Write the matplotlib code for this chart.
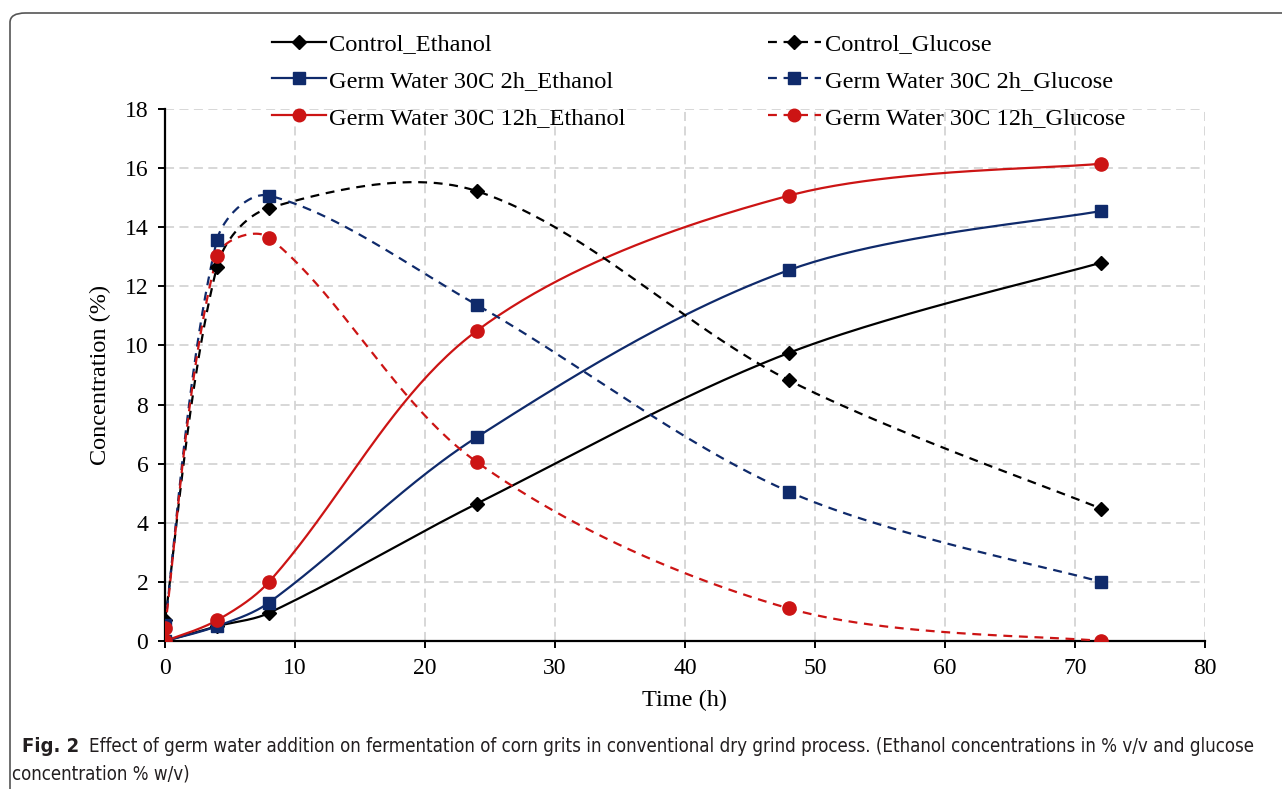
import numpy as np
import matplotlib.pyplot as plt
from matplotlib.patches import FancyBboxPatch

# data
tiempo = [0, 4, 8, 24, 48, 72]
control_etanol = [0.0, 0.5, 0.95, 4.65, 9.75, 12.8]
germ2h_etanol = [0.0, 0.5, 1.3, 6.9, 12.55, 14.55]
germ12h_etanol = [0.0, 0.7, 2.0, 10.5, 15.07, 16.15]
control_glucosa = [0.7, 12.67, 14.65, 15.22, 8.82, 4.48]
germ2h_glucosa = [0.55, 13.57, 15.07, 11.37, 5.05, 2.0]
germ12h_glucosa = [0.45, 13.02, 13.65, 6.05, 1.1, 0.0]

nombres = ["Control_Ethanol", "Germ Water 30C 2h_Ethanol", "Germ Water 30C 12h_Ethanol",
           "Control_Glucose", "Germ Water 30C 2h_Glucose", "Germ Water 30C 12h_Glucose"]

negro = "#000000"
azul = "#0f2a6b"
rojo = "#cc1414"

xmax, ymax = 80, 18
ancho_px, alto_px = 1040, 532


def suavizar(x, y, n=50):
    # curva suave tipo Excel, en espacio de pantalla; tangentes ponderadas por longitud de tramo
    px = np.array(x, float) * ancho_px / xmax
    py = np.array(y, float) * alto_px / ymax
    P = np.column_stack([px, py])
    P = np.vstack([P[0], P, P[-1]])
    out = []
    for i in range(1, len(P) - 2):
        p0, p1, p2, p3 = P[i - 1], P[i], P[i + 1], P[i + 2]
        d01 = np.hypot(*(p1 - p0))
        d12 = np.hypot(*(p2 - p1))
        d23 = np.hypot(*(p3 - p2))
        f1 = d12 / (d01 + d12) if d01 > 0 else 0.5
        f2 = d12 / (d12 + d23) if d23 > 0 else 0.5
        c1 = p1 + (p2 - p0) * f1 / 3
        c2 = p2 - (p3 - p1) * f2 / 3
        t = np.linspace(0, 1, n)[:, None]
        seg = (1 - t) ** 3 * p1 + 3 * (1 - t) ** 2 * t * c1 + 3 * (1 - t) * t ** 2 * c2 + t ** 3 * p2
        out.append(seg)
    out = np.vstack(out)
    return out[:, 0] * xmax / ancho_px, out[:, 1] * ymax / alto_px


fig = plt.figure(figsize=(12.82, 7.89), dpi=100)
ax = fig.add_axes([165 / 1282, 1 - 641 / 789, 1040 / 1282, 532 / 789])

series = [
    (control_etanol, negro, "D", 7, "-"),
    (germ2h_etanol, azul, "s", 8.5, "-"),
    (germ12h_etanol, rojo, "o", 9.5, "-"),
    (control_glucosa, negro, "D", 7, (0, (4, 3))),
    (germ2h_glucosa, azul, "s", 8.5, (0, (4, 3))),
    (germ12h_glucosa, rojo, "o", 9.5, (0, (4, 3))),
]

for (vals, color, marca, tam, estilo), nombre in zip(series, nombres):
    xs, ys = suavizar(tiempo, vals)
    ax.plot(xs, ys, color=color, lw=1.6, linestyle=estilo, zorder=3)
    ax.plot(tiempo, vals, color=color, marker=marca, markersize=tam, linestyle="none", zorder=4)
    ax.plot([], [], color=color, lw=1.6, linestyle=estilo, marker=marca, markersize=tam * 0.95, label=nombre)

ax.set_xlim(0, xmax)
ax.set_ylim(0, ymax)
ax.set_xticks(range(0, 81, 10))
ax.set_yticks(range(0, 19, 2))
ax.grid(True, color="#d4d4d4", linestyle=(0, (5, 3)), lw=1.3, zorder=0)
ax.spines["top"].set_visible(False)
ax.spines["right"].set_visible(False)
ax.spines["left"].set_linewidth(1.6)
ax.spines["bottom"].set_linewidth(1.6)
ax.tick_params(direction="out", length=5, width=1.4, labelsize=17, pad=7)
for lab in ax.get_xticklabels() + ax.get_yticklabels():
    lab.set_fontfamily("Liberation Serif")
ax.set_xlabel("Time (h)", fontsize=17.5, fontfamily="Liberation Serif", labelpad=8)
ax.set_ylabel("Concentration (%)", fontsize=17.5, fontfamily="Liberation Serif", labelpad=10)

leg = ax.legend(ncol=2, loc="upper left", bbox_to_anchor=(272 / 1282, 1 - 33 / 789),
                bbox_transform=fig.transFigure, frameon=False, borderpad=0, borderaxespad=0,
                prop={"family": "Liberation Serif", "size": 17.6}, handlelength=2.2,
                handletextpad=0.15, columnspacing=5.8, labelspacing=0.6)

# borde redondeado de la figura
borde = FancyBboxPatch((10 / 1282, -0.05), 1.1, 1 - 13 / 789 + 0.05,
                       boxstyle="round,pad=0,rounding_size=0.012", transform=fig.transFigure,
                       fill=False, edgecolor="#555555", lw=1.2)
fig.patches.append(borde)

# pie de figura, ajustado al ancho del original
fuente = {"family": "DejaVu Sans", "stretch": "condensed", "color": "#231f20", "va": "center"}
t_fig = fig.text(22 / 1282, 1 - 746 / 789, "Fig. 2", fontsize=14, fontweight="bold", **fuente)
t_l1 = fig.text(88 / 1282, 1 - 746 / 789,
                "Effect of germ water addition on fermentation of corn grits in conventional dry grind process. "
                "(Ethanol concentrations in % v/v and glucose", fontsize=14, **fuente)
t_l2 = fig.text(12 / 1282, 1 - 774 / 789, "concentration % w/v)", fontsize=14, **fuente)
fig.canvas.draw()
r = fig.canvas.get_renderer()
escala = (1266 - 88) / t_l1.get_window_extent(r).width
for t in (t_fig, t_l1, t_l2):
    t.set_fontsize(14 * escala)
t_fig.set_fontsize(min(14 * escala * 1.08, 16))
fig.canvas.draw()
ancho_fig = t_fig.get_window_extent(r).width
t_fig.set_x(22 / 1282)
t_l1.set_x((22 + ancho_fig + 10) / 1282)

fig.savefig("out.png", dpi=100)
